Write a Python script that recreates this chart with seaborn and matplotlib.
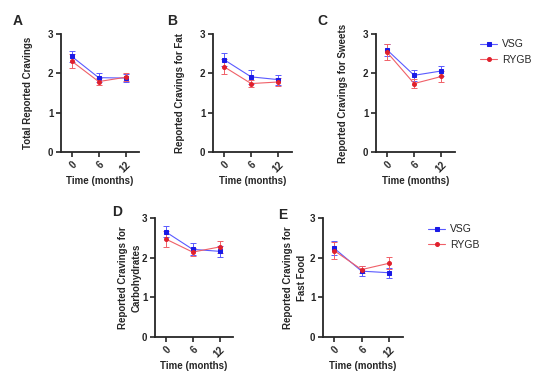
import numpy as np
import matplotlib
matplotlib.use("Agg")
import matplotlib.pyplot as plt
import pandas as pd
import seaborn as sns

# временные точки и группы
months = ["0", "6", "12"]
groups = ["VSG", "RYGB"]

# средние значения и SEM по панелям
vsg_total = [2.43, 1.89, 1.88]
vsg_total_err = [0.13, 0.12, 0.11]
rygb_total = [2.31, 1.79, 1.90]
rygb_total_err = [0.18, 0.09, 0.10]

vsg_fat = [2.35, 1.91, 1.84]
vsg_fat_err = [0.17, 0.17, 0.13]
rygb_fat = [2.17, 1.74, 1.78]
rygb_fat_err = [0.19, 0.10, 0.10]

vsg_sweets = [2.60, 1.95, 2.06]
vsg_sweets_err = [0.15, 0.14, 0.13]
rygb_sweets = [2.54, 1.74, 1.92]
rygb_sweets_err = [0.21, 0.12, 0.13]

vsg_carbs = [2.65, 2.21, 2.16]
vsg_carbs_err = [0.14, 0.15, 0.14]
rygb_carbs = [2.47, 2.14, 2.27]
rygb_carbs_err = [0.20, 0.11, 0.14]

vsg_fast = [2.24, 1.66, 1.62]
vsg_fast_err = [0.18, 0.13, 0.12]
rygb_fast = [2.18, 1.70, 1.86]
rygb_fast_err = [0.22, 0.09, 0.15]

panels = [
    ("A", "Total Reported Cravings", vsg_total, vsg_total_err, rygb_total, rygb_total_err),
    ("B", "Reported Cravings for Fat", vsg_fat, vsg_fat_err, rygb_fat, rygb_fat_err),
    ("C", "Reported Cravings for Sweets", vsg_sweets, vsg_sweets_err, rygb_sweets, rygb_sweets_err),
    ("D", "Reported Cravings for\nCarbohydrates", vsg_carbs, vsg_carbs_err, rygb_carbs, rygb_carbs_err),
    ("E", "Reported Cravings for\nFast Food", vsg_fast, vsg_fast_err, rygb_fast, rygb_fast_err),
]

sns.set_style("ticks")
plt.rcParams["font.family"] = ["Liberation Sans", "DejaVu Sans"]

W, H = 550, 376
fig = plt.figure(figsize=(W / 100, H / 100), dpi=100)

# положение осей в пикселях: левый край, верх (y=3), ширина, высота
boxes = [(61, 34, 78, 118), (213, 34, 79, 118), (376, 34, 79, 118),
         (155, 218, 78, 119), (323, 218, 80, 119)]
letter_pos = [(18, 21), (172, 21), (322, 21), (117, 212), (283, 215)]
ylab_pad = [11, 11, 11, 0, 2]

line_col = {"VSG": "#5a5aff", "RYGB": "#f06068"}
mark_col = {"VSG": "#1a1ae6", "RYGB": "#e0202c"}
markers = {"VSG": "s", "RYGB": "o"}
msize = {"VSG": 3.2, "RYGB": 2.8}

axes = []
for i, (letter, ylabel, v, ve, r, re_) in enumerate(panels):
    l, t, w, h = boxes[i]
    ax = fig.add_axes([l / W, (H - t - h) / H, w / W, h / H])
    axes.append(ax)
    df = pd.DataFrame({
        "pos": list(range(len(months))) * 2,
        "score": v + r,
        "err": ve + re_,
        "group": ["VSG"] * 3 + ["RYGB"] * 3,
    })
    for g in groups:
        sub = df[df.group == g]
        sns.lineplot(data=sub, x="pos", y="score", ax=ax, color=line_col[g],
                     lw=0.8, marker=markers[g], markersize=msize[g],
                     markerfacecolor=mark_col[g], markeredgecolor=mark_col[g],
                     label=g, zorder=3)
        ax.errorbar(sub.pos, sub.score, yerr=sub.err, fmt="none",
                    ecolor=line_col[g], elinewidth=0.7, capsize=2.0, capthick=0.7, zorder=2)
    ax.set_xlim(-0.4, 2.5)
    ax.set_ylim(0, 3)
    ax.set_yticks([0, 1, 2, 3])
    ax.set_xticks(range(len(months)))
    ax.set_xticklabels(months, rotation=45, ha="right", rotation_mode="anchor")
    ax.tick_params(labelsize=7, width=1.2, length=3.5, pad=2)
    for lab in ax.get_xticklabels() + ax.get_yticklabels():
        lab.set_fontweight("bold")
    for s in ["left", "bottom"]:
        ax.spines[s].set_linewidth(1.3)
    sns.despine(ax=ax)
    ax.set_xlabel("Time (months)", fontsize=7, fontweight="bold", labelpad=1)
    ax.set_ylabel(ylabel, fontsize=7, fontweight="bold", labelpad=ylab_pad[i], linespacing=1.45)
    if ax.get_legend() is not None:
        ax.get_legend().remove()
    fig.text(letter_pos[i][0] / W, 1 - letter_pos[i][1] / H, letter,
             fontsize=10, fontweight="bold", ha="center", va="center")

# легенды справа от C и E
for ax, (lx, ly) in [(axes[2], (476, 35)), (axes[4], (424, 220))]:
    handles, labels = ax.get_legend_handles_labels()
    ax.legend(handles[:2], labels[:2], loc="upper left",
              bbox_to_anchor=(lx / W, 1 - ly / H), bbox_transform=fig.transFigure,
              frameon=False, prop={"size": 7.5}, handlelength=1.6, handletextpad=0.5,
              labelspacing=0.55, borderaxespad=0)

fig.savefig("out.png", dpi=100)
